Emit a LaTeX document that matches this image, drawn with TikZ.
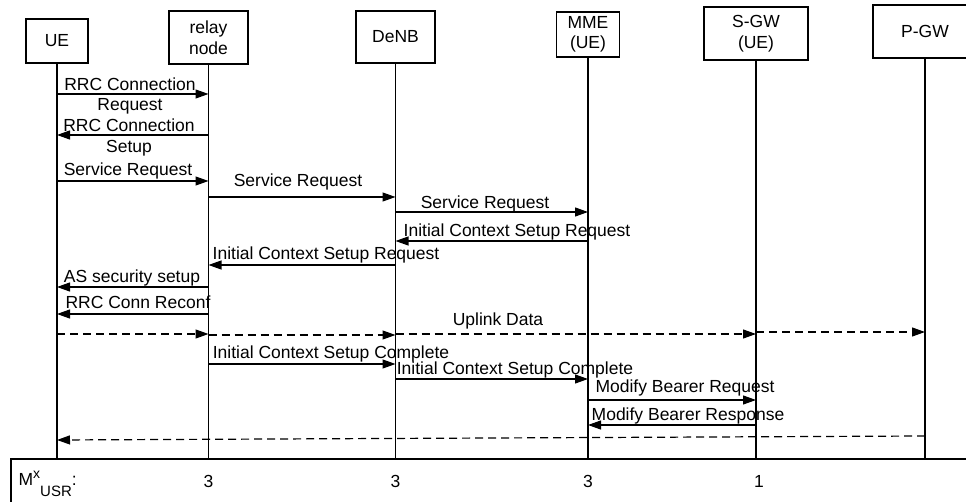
\documentclass[tikz,border=0pt]{standalone}
\usepackage{fontspec}
\setmainfont{Liberation Sans}
\usetikzlibrary{arrows.meta}

\begin{document}
\begin{tikzpicture}[x=1pt,y=-1pt,line width=1.2pt,
    font=\fontsize{17.5}{20.5}\selectfont,
    entity/.style={draw,align=center,inner sep=0pt},
    msg/.style={-{Triangle[length=13pt,width=9pt]}},
    data/.style={msg,dash pattern=on 8pt off 5pt},
    lbl/.style={anchor=base,inner sep=0pt}]
  \useasboundingbox (0,0) rectangle (966,502);
  % entities
  \node[entity,minimum width=62pt,minimum height=44pt] (ue) at (57,41) {UE};
  \node[entity,minimum width=79pt,minimum height=53pt] (relay) at (208.5,37.5) {relay\\node};
  \node[entity,minimum width=79pt,minimum height=52pt] (denb) at (395.5,37) {DeNB};
  \node[entity,minimum width=63pt,minimum height=45pt] (mme) at (588,34.5) {MME\\(UE)};
  \node[entity,minimum width=104pt,minimum height=53pt] (sgw) at (756,33.5) {S-GW\\(UE)};
  \node[entity,minimum width=104pt,minimum height=53pt] (pgw) at (925,31.5) {P-GW};
  % lifelines
  \draw (ue) -- (ue |- 0,459);
  \draw (relay) -- (relay |- 0,459);
  \draw (denb) -- (denb |- 0,459);
  \draw (mme) -- (mme |- 0,459);
  \draw (sgw) -- (sgw |- 0,459);
  \draw (pgw) -- (pgw |- 0,459);
  % messages
  \draw[msg] (ue |- 0,94) -- (relay |- 0,94);
  \node[lbl] (rrcreq) at (130,91) {RRC Connection};
  \node[lbl] (rrcreqb) at (130,111) {Request};
  \draw[msg] (relay |- 0,135) -- (ue |- 0,135);
  \node[lbl] (rrcset) at (129,132) {RRC Connection};
  \node[lbl] (rrcsetb) at (129,153) {Setup};
  \draw[msg] (ue |- 0,181) -- (relay |- 0,181);
  \node[lbl] (srvreq1) at (128,176) {Service Request};
  \draw[msg] (relay |- 0,197) -- (denb |- 0,197);
  \node[lbl] (srvreq2) at (298,187) {Service Request};
  \draw[msg] (denb |- 0,212) -- (mme |- 0,212);
  \node[lbl] (srvreq3) at (485,209) {Service Request};
  \draw[msg] (mme |- 0,241) -- (denb |- 0,241);
  \node[lbl] (icsreq1) at (517,236.5) {Initial Context Setup Request};
  \draw[msg] (denb |- 0,265) -- (relay |- 0,265);
  \node[lbl] (icsreq2) at (326,259.5) {Initial Context Setup Request};
  \draw[msg] (relay |- 0,287) -- (ue |- 0,287);
  \node[lbl] (assec) at (132,282.5) {AS security setup};
  \draw[msg] (relay |- 0,314) -- (ue |- 0,314);
  \node[lbl] (reconf) at (138,309) {RRC Conn Reconf};
  % uplink data
  \draw[data] (ue |- 0,334) -- (relay |- 0,334);
  \draw[data] (relay |- 0,335) -- (denb |- 0,335);
  \draw[data] (denb |- 0,334) -- (sgw |- 0,334);
  \draw[data] (sgw |- 0,332) -- (pgw |- 0,332);
  \node[lbl] (uplink) at (498,326) {Uplink Data};
  \draw[msg] (relay |- 0,364) -- (denb |- 0,364);
  \node[lbl] (icscom1) at (331,359) {Initial Context Setup Complete};
  \draw[msg] (denb |- 0,379) -- (mme |- 0,379);
  \node[lbl] (icscom2) at (515,374) {Initial Context Setup Complete};
  \draw[msg] (mme |- 0,400) -- (sgw |- 0,400);
  \node[lbl] (mbreq) at (685,392.5) {Modify Bearer Request};
  \draw[msg] (sgw |- 0,425) -- (mme |- 0,425);
  \node[lbl] (mbrsp) at (688,420.5) {Modify Bearer Response};
  % downlink
  \draw[data] (pgw |- 0,436) -- (ue |- 0,440);
  % bottom row
  \draw (11,459) rectangle (990,520);
  \node[lbl,anchor=base west] (musr) at (18,485) {M\raisebox{7pt}{\fontsize{14}{15}\selectfont x}\raisebox{-11pt}{\fontsize{15}{16}\selectfont USR}:};
  \node[lbl] (nrelay) at (relay |- 0,487) {3};
  \node[lbl] (ndenb) at (denb |- 0,487) {3};
  \node[lbl] (nmme) at (mme |- 0,487) {3};
  \node[lbl] (nsgw) at (759,487) {1};
\end{tikzpicture}
\end{document}
